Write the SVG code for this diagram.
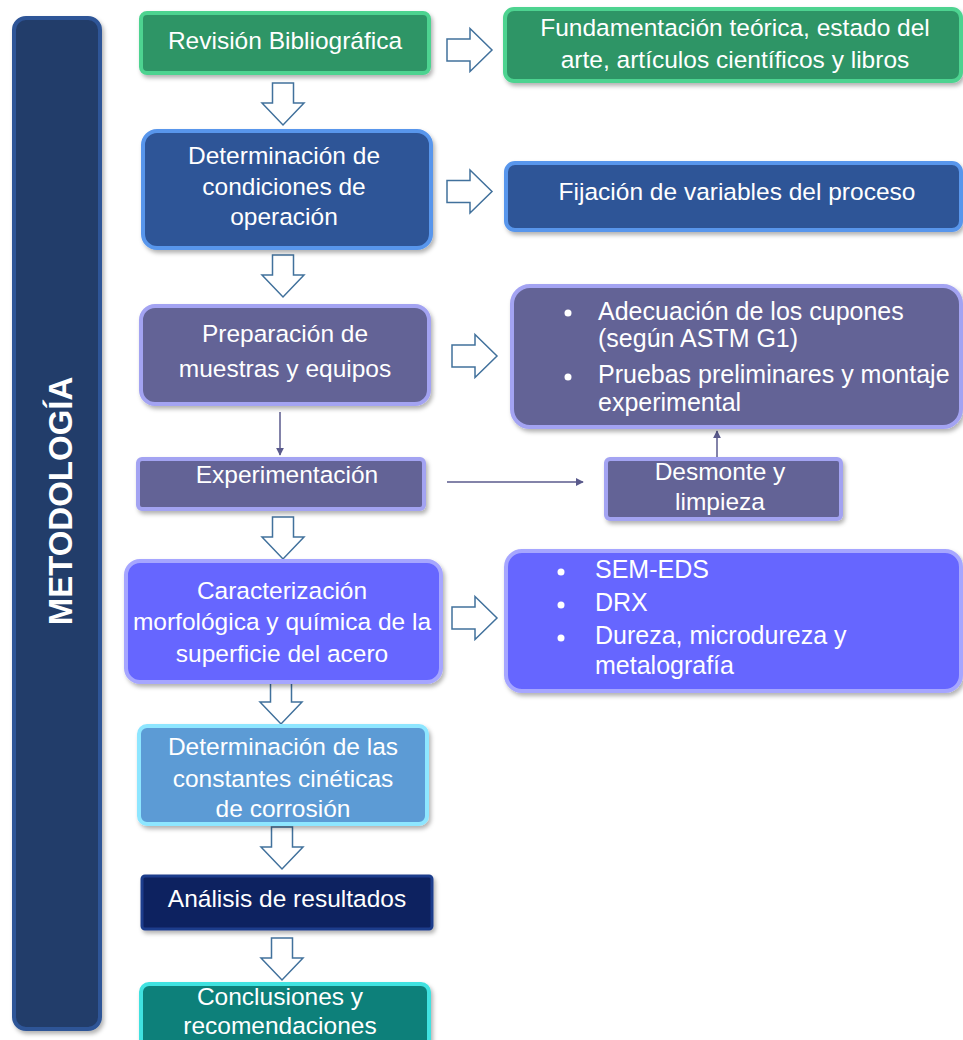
<svg xmlns="http://www.w3.org/2000/svg" width="963" height="1040" viewBox="0 0 963 1040">
<defs>
<style>
.t{font-family:"Liberation Sans",Arial,sans-serif;fill:#ffffff;font-size:24.5px;text-anchor:middle}
.r{font-family:"Liberation Sans",Arial,sans-serif;fill:#ffffff;font-size:25px}
.ha{fill:#ffffff;stroke:#41719c;stroke-width:1.5;stroke-linejoin:miter}
.ln{stroke:#5a5a8c;stroke-width:1.5;fill:none}
.green{fill:#2e9566;stroke:#4dd390;stroke-width:4}
.blue{fill:#2f5597;stroke:#5896ec;stroke-width:4}
.grey{fill:#646496;stroke:#a3a3f2;stroke-width:4}
.violet{fill:#6666ff;stroke:#a6a6ff;stroke-width:4}
.sky{fill:#5b9bd5;stroke:#8ee6ff;stroke-width:4}
.navy{fill:#0b2060;stroke:#1e3c8c;stroke-width:3}
.teal{fill:#0e807a;stroke:#40e2e0;stroke-width:4}
</style>
<filter id="sh" x="-10%" y="-10%" width="120%" height="130%">
<feDropShadow dx="2" dy="3" stdDeviation="2" flood-color="#000" flood-opacity="0.3"/>
</filter>
<marker id="ah" viewBox="0 0 10 10" refX="9" refY="5" markerWidth="8" markerHeight="8" orient="auto" markerUnits="userSpaceOnUse">
<path d="M0,0 L10,5 L0,10 z" fill="#5a5a8c"/>
</marker>
<path id="ra" d="M0,-11 L23,-11 L23,-21.5 L45,0 L23,21.5 L23,11 L0,11 z"/>
<path id="da" d="M-10.5,0 L10.5,0 L10.5,20 L21,20 L0,42 L-21,20 L-10.5,20 z"/>
</defs>
<rect width="963" height="1040" fill="#ffffff"/>

<g id="metodologia">
<rect x="14" y="18" width="86" height="1011" rx="12" fill="#233c6b" stroke="#2e5597" stroke-width="4" filter="url(#sh)"/>
<text x="0" y="0" transform="translate(72,501) rotate(-90)" font-family="'Liberation Sans',Arial,sans-serif" font-weight="bold" font-size="33" fill="#ffffff" text-anchor="middle">METODOLOGÍA</text>
</g>

<g id="connectors">
<use href="#ra" class="ha" x="447" y="50"/>
<use href="#ra" class="ha" x="447" y="191.5"/>
<use href="#ra" class="ha" x="452" y="356"/>
<use href="#ra" class="ha" x="452" y="618"/>
<use href="#da" class="ha" x="283" y="83"/>
<use href="#da" class="ha" x="283" y="255"/>
<use href="#da" class="ha" x="283" y="517"/>
<use href="#da" class="ha" x="281" y="682"/>
<use href="#da" class="ha" x="282" y="827"/>
<use href="#da" class="ha" x="282" y="938"/>
<line class="ln" x1="280" y1="412" x2="280" y2="455" marker-end="url(#ah)"/>
<line class="ln" x1="447" y1="482" x2="583" y2="482" marker-end="url(#ah)"/>
<line class="ln" x1="717" y1="458" x2="717" y2="431" marker-end="url(#ah)"/>
</g>

<g id="revision">
<rect class="green" x="141" y="13" width="288" height="60" rx="6" filter="url(#sh)"/>
<text class="t" x="285" y="49">Revisión Bibliográfica</text>
</g>
<g id="fundamentacion">
<rect class="green" x="505" y="9" width="456" height="72" rx="9" filter="url(#sh)"/>
<text class="t" x="735" y="36" font-size="25">Fundamentación teórica, estado del</text>
<text class="t" x="735" y="68" font-size="25">arte, artículos científicos y libros</text>
</g>

<g id="determinacion">
<rect class="blue" x="143" y="131" width="288" height="117" rx="14" filter="url(#sh)"/>
<text class="t" x="284" y="164">Determinación de</text>
<text class="t" x="284" y="195">condiciones de</text>
<text class="t" x="284" y="225">operación</text>
</g>
<g id="fijacion">
<rect class="blue" x="506" y="163" width="455" height="67" rx="9" filter="url(#sh)"/>
<text class="t" x="737" y="200" font-size="25">Fijación de variables del proceso</text>
</g>

<g id="preparacion">
<rect class="grey" x="141" y="306" width="288" height="98" rx="14" filter="url(#sh)"/>
<text class="t" x="285" y="342">Preparación de</text>
<text class="t" x="285" y="377">muestras y equipos</text>
</g>
<g id="adecuacion">
<rect class="grey" x="512" y="286" width="449" height="141" rx="18" filter="url(#sh)"/>
<circle cx="568" cy="313" r="3.5" fill="#ffffff"/>
<circle cx="568" cy="377" r="3.5" fill="#ffffff"/>
<text class="r" x="598" y="320" font-size="24.5">Adecuación de los cupones</text>
<text class="r" x="598" y="347" font-size="24.5">(según ASTM G1)</text>
<text class="r" x="598" y="383" font-size="24.5">Pruebas preliminares y montaje</text>
<text class="r" x="598" y="411" font-size="24.5">experimental</text>
</g>

<g id="experimentacion">
<rect class="grey" x="138" y="459" width="286" height="50" rx="4" filter="url(#sh)"/>
<text class="t" x="287" y="483">Experimentación</text>
</g>
<g id="desmonte">
<rect class="grey" x="606" y="459" width="235" height="60" rx="4" filter="url(#sh)"/>
<text class="t" x="720" y="480">Desmonte y</text>
<text class="t" x="720" y="510">limpieza</text>
</g>

<g id="caracterizacion">
<rect class="violet" x="126" y="561" width="315" height="121" rx="14" filter="url(#sh)"/>
<text class="t" x="282" y="599" font-size="24">Caracterización</text>
<text class="t" x="282" y="630" font-size="24">morfológica y química de la</text>
<text class="t" x="282" y="662" font-size="24">superficie del acero</text>
</g>
<g id="tecnicas">
<rect class="violet" x="506" y="551" width="455" height="140" rx="16" filter="url(#sh)"/>
<circle cx="561" cy="572" r="3.5" fill="#ffffff"/>
<circle cx="561" cy="605" r="3.5" fill="#ffffff"/>
<circle cx="561" cy="638" r="3.5" fill="#ffffff"/>
<text class="r" x="595" y="578">SEM-EDS</text>
<text class="r" x="595" y="611">DRX</text>
<text class="r" x="595" y="644">Dureza, microdureza y</text>
<text class="r" x="595" y="674">metalografía</text>
</g>

<g id="constantes">
<rect class="sky" x="139" y="726" width="288" height="98" rx="8" filter="url(#sh)"/>
<text class="t" x="283" y="755">Determinación de las</text>
<text class="t" x="283" y="787">constantes cinéticas</text>
<text class="t" x="283" y="817">de corrosión</text>
</g>

<g id="analisis">
<rect class="navy" x="142" y="876" width="290" height="53" rx="3" filter="url(#sh)"/>
<text class="t" x="287" y="907">Análisis de resultados</text>
</g>

<g id="conclusiones">
<rect class="teal" x="141" y="984" width="288" height="70" rx="8" filter="url(#sh)"/>
<text class="t" x="280" y="1005">Conclusiones y</text>
<text class="t" x="280" y="1034">recomendaciones</text>
</g>
</svg>
